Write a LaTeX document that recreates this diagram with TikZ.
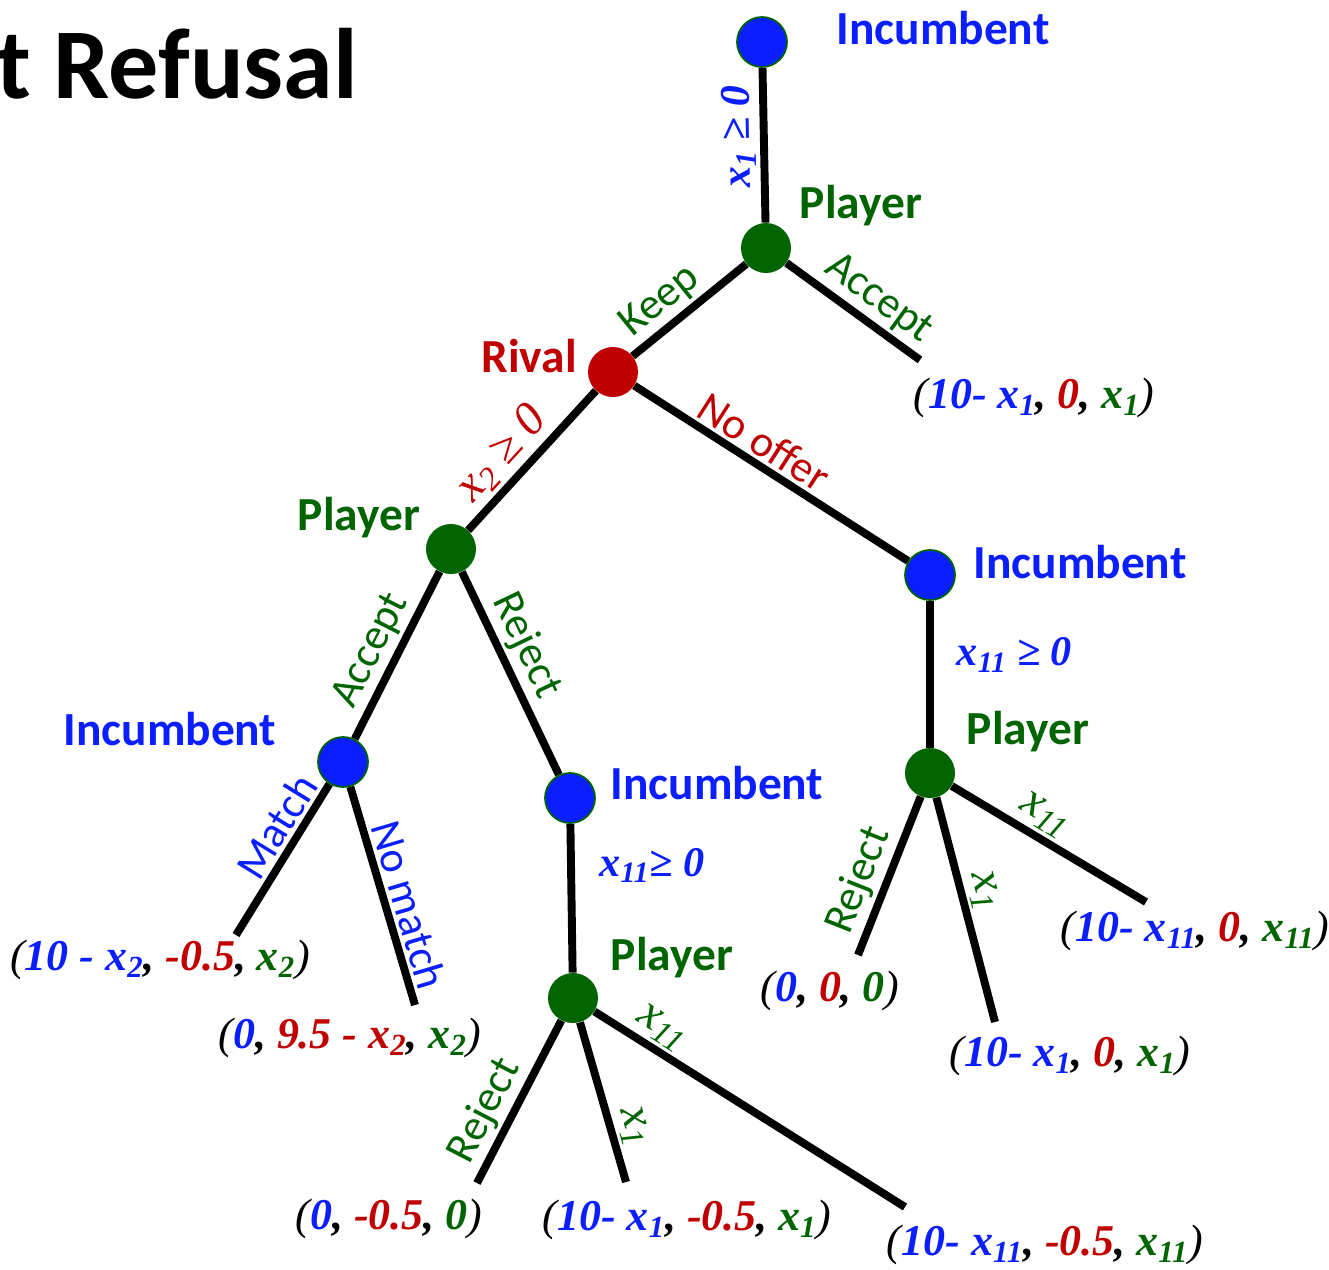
\documentclass[tikz,border=0pt]{standalone}
\usepackage{fontspec}
\setmainfont{Liberation Serif}
\setsansfont{Carlito}
\usepackage{xcolor}
\usepackage{tikz}
\definecolor{inc}{HTML}{0A1EFF}
\definecolor{ply}{HTML}{006400}
\definecolor{riv}{HTML}{C00000}
\newcommand{\xx}[1]{x\textsubscript{#1}}
\newcommand{\pf}[3]{{\mdseries(}\textcolor{inc}{#1}, \textcolor{riv}{#2}, \textcolor{ply}{#3}{\mdseries)}}

\begin{document}
\begin{tikzpicture}[x=0.02cm,y=-0.02cm,
  incdot/.style={circle,minimum size=1cm,inner sep=0pt,fill=inc,draw=ply,line width=1pt},
  plydot/.style={circle,minimum size=1cm,inner sep=0pt,fill=ply},
  rivdot/.style={circle,minimum size=1cm,inner sep=0pt,fill=riv},
  who/.style={inner sep=0pt,font=\sffamily\bfseries\fontsize{27}{32}\selectfont},
  br/.style={sloped,above,inner sep=2pt,font=\sffamily\fontsize{25}{30}\selectfont},
  mth/.style={inner sep=2pt,font=\fontsize{27}{30}\selectfont\itshape},
  mthb/.style={inner sep=2pt,font=\fontsize{24}{28}\selectfont\bfseries\itshape},
  pay/.style={inner sep=0pt,font=\fontsize{25}{30}\selectfont\bfseries\itshape},
  limb/.style={line width=4.5pt}]
\useasboundingbox (0,0) rectangle (1329,1269);

\node[anchor=west,inner sep=0pt,font=\sffamily\bfseries\fontsize{57}{62}\selectfont] (ttl) at (-4,64) {t Refusal};

% decision nodes
\node[incdot] (i0) at (762,42) {};
\node[plydot] (p1) at (766,248) {};
\node[rivdot] (rv) at (613,372) {};
\node[plydot] (p2) at (451,549) {};
\node[incdot] (i1) at (343,762) {};
\node[incdot] (i2) at (570,798) {};
\node[plydot] (p3) at (573,998) {};
\node[incdot] (i3) at (930,575) {};
\node[plydot] (p4) at (930,773) {};

% who moves
\node[who,text=inc] (w0) at (943,28) {Incumbent};
\node[who,text=ply] (w1) at (861,206) {Player};
\node[who,text=riv] (w2) at (529,356) {Rival};
\node[who,text=ply] (w3) at (359,518) {Player};
\node[who,text=inc] (w4) at (170,729) {Incumbent};
\node[who,text=inc] (w5) at (717,783) {Incumbent};
\node[who,text=ply] (w6) at (672,958) {Player};
\node[who,text=inc] (w7) at (1080,562) {Incumbent};
\node[who,text=ply] (w8) at (1028,732) {Player};

% leaves
\coordinate (a1) at (920,360);
\coordinate (m1) at (236,935);
\coordinate (m2) at (415,1005);
\coordinate (r1) at (477,1183);
\coordinate (r2) at (626,1182);
\coordinate (r3) at (905,1207);
\coordinate (n1) at (858,955);
\coordinate (n2) at (995,1022);
\coordinate (n3) at (1146,902);

% branches
\draw[limb] (p1) -- node[mthb,sloped,allow upside down,above,pos=.56,text=inc]{\xx{1} ≥ 0} (i0);
\draw[limb] (p1) -- node[br,pos=.62,text=ply]{Keep} (rv);
\draw[limb] (p1) -- node[br,pos=.58,text=ply]{Accept} (a1);
\draw[limb] (rv) -- node[br,pos=.43,text=riv]{No offer} (i3);
\draw[limb] (rv) -- node[mth,sloped,above,pos=.58,text=riv]{\xx{2} ≥ 0} (p2);
\draw[limb] (p2) -- node[br,pos=.54,text=ply]{Accept} (i1);
\draw[limb] (p2) -- node[br,pos=.42,text=ply]{Reject} (i2);
\draw[limb] (i1) -- node[br,pos=.36,text=inc]{Match} (m1);
\draw[limb] (i1) -- node[br,pos=.57,text=inc]{No match} (m2);
\draw[limb] (i2) -- node[mthb,right,inner sep=0pt,xshift=14pt,pos=.28,text=inc]{\xx{11}≥ 0} (p3);
\draw[limb] (i3) -- node[mthb,right,inner sep=0pt,xshift=13pt,pos=.37,text=inc]{\xx{11} ≥ 0} (p4);
\draw[limb] (p3) -- node[br,pos=.63,text=ply]{Reject} (r1);
\draw[limb] (p3) -- node[mth,sloped,above,pos=.69,text=ply]{\xx{1}} (r2);
\draw[limb] (p3) -- node[mth,sloped,above,pos=.18,text=ply]{\xx{11}} (r3);
\draw[limb] (p4) -- node[br,pos=.59,text=ply]{Reject} (n1);
\draw[limb] (p4) -- node[mth,sloped,above,pos=.44,text=ply]{\xx{1}} (n2);
\draw[limb] (p4) -- node[mth,sloped,above,pos=.42,text=ply]{\xx{11}} (n3);

% payoffs
\node[pay] (u1) at (1034,398) {\pf{10- \xx{1}}{0}{\xx{1}}};
\node[pay] (u2) at (160,960) {\pf{10 - \xx{2}}{-0.5}{\xx{2}}};
\node[pay] (u3) at (350,1038) {\pf{0}{9.5 - \xx{2}}{\xx{2}}};
\node[pay] (u4) at (389,1219) {\pf{0}{-0.5}{0}};
\node[pay] (u5) at (687,1220) {\pf{10- \xx{1}}{-0.5}{\xx{1}}};
\node[pay] (u6) at (1045,1245) {\pf{10- \xx{11}}{-0.5}{\xx{11}}};
\node[pay] (u7) at (830,991) {\pf{0}{0}{0}};
\node[pay] (u8) at (1070,1056) {\pf{10- \xx{1}}{0}{\xx{1}}};
\node[pay] (u9) at (1195,931) {\pf{10- \xx{11}}{0}{\xx{11}}};
\end{tikzpicture}
\end{document}
